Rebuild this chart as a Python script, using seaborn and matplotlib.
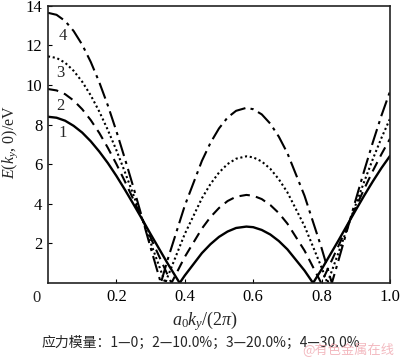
import numpy as np
import pandas as pd
import matplotlib
matplotlib.use("Agg")
import matplotlib.pyplot as plt
import seaborn as sns

# Readings from the reference (k = a0*ky/(2*pi), E in eV)
k1 = [0, 0.025, 0.05, 0.075, 0.10, 0.125, 0.15, 0.175, 0.20, 0.225, 0.25, 0.275, 0.30, 0.35, 0.385, 0.40, 0.45, 0.475, 0.50,
      0.525, 0.55, 0.58, 0.60, 0.625, 0.65, 0.675, 0.70, 0.75, 0.775, 0.80, 0.85, 0.90, 0.925, 0.95, 0.975, 1.00]
e1 = [8.40, 8.35, 8.20, 7.94, 7.60, 7.16, 6.64, 6.06, 5.41, 4.71, 3.98, 3.23, 2.47, 0.98, 0.0, 0.38, 1.51, 1.96, 2.33,
      2.60, 2.78, 2.85, 2.82, 2.68, 2.45, 2.12, 1.70, 0.63, 0.0, 0.69, 2.17, 3.69, 4.43, 5.14, 5.81, 6.42]

k2 = [0, 0.025, 0.05, 0.075, 0.10, 0.125, 0.15, 0.175, 0.20, 0.225, 0.25, 0.275, 0.30, 0.35, 0.361, 0.40, 0.45, 0.475, 0.50,
      0.525, 0.55, 0.58, 0.60, 0.625, 0.65, 0.675, 0.70, 0.75, 0.799, 0.85, 0.90, 0.925, 0.95, 0.975, 1.00]
e2 = [9.80, 9.73, 9.54, 9.22, 8.78, 8.23, 7.58, 6.83, 6.01, 5.13, 4.21, 3.25, 2.29, 0.40, 0.0, 1.32, 2.75, 3.33, 3.79,
      4.14, 4.36, 4.45, 4.41, 4.24, 3.94, 3.53, 3.00, 1.64, 0.0, 1.90, 3.83, 4.77, 5.67, 6.51, 7.29]

k3 = [0, 0.025, 0.05, 0.075, 0.10, 0.125, 0.15, 0.175, 0.20, 0.225, 0.25, 0.275, 0.30, 0.343, 0.35, 0.40, 0.45, 0.475, 0.50,
      0.525, 0.55, 0.58, 0.60, 0.625, 0.65, 0.675, 0.70, 0.75, 0.80, 0.817, 0.85, 0.90, 0.925, 0.95, 0.975, 1.00]
e3 = [11.45, 11.37, 11.13, 10.72, 10.17, 9.48, 8.66, 7.73, 6.71, 5.60, 4.44, 3.25, 2.04, 0.0, 0.32, 2.48, 4.28, 5.00, 5.58,
      6.01, 6.28, 6.40, 6.35, 6.14, 5.77, 5.24, 4.58, 2.88, 0.78, 0.0, 1.56, 3.97, 5.14, 6.27, 7.33, 8.30]

k4 = [0, 0.025, 0.05, 0.075, 0.10, 0.125, 0.15, 0.175, 0.20, 0.225, 0.25, 0.275, 0.30, 0.33, 0.35, 0.40, 0.45, 0.475, 0.50,
      0.525, 0.55, 0.58, 0.60, 0.625, 0.65, 0.675, 0.70, 0.75, 0.80, 0.83, 0.85, 0.90, 0.925, 0.95, 0.975, 1.00]
e4 = [13.65, 13.55, 13.24, 12.73, 12.04, 11.17, 10.14, 8.97, 7.67, 6.27, 4.82, 3.31, 1.79, 0.0, 1.19, 3.91, 6.17, 7.08, 7.81,
      8.36, 8.70, 8.85, 8.78, 8.52, 8.05, 7.39, 6.56, 4.41, 1.76, 0.0, 1.18, 4.22, 5.70, 7.12, 8.46, 9.68]

curve_labels = ["1", "2", "3", "4"]
label_pos_k = [0.042, 0.036, 0.036, 0.044]
label_pos_e = [7.6, 8.95, 10.6, 12.5]

x_ticks = [0.2, 0.4, 0.6, 0.8, 1.0]
x_ticklabels = ["0.2", "0.4", "0.6", "0.8", "1.0"]
y_ticks = [2, 4, 6, 8, 10, 12, 14]
y_ticklabels = ["2", "4", "6", "8", "10", "12", "14"]

caption = "应力模量：1—0；2—10.0%；3—20.0%；4—30.0%"
watermark = "@有色金属在线"

sns.set_style("ticks")
plt.rcParams["font.family"] = ["Liberation Serif", "DejaVu Serif"]
plt.rcParams["mathtext.fontset"] = "custom"
plt.rcParams["mathtext.rm"] = "Liberation Serif"
plt.rcParams["mathtext.it"] = "Liberation Serif:italic"

fig = plt.figure(figsize=(4.0, 3.58), dpi=100)
ax = fig.add_axes([0.12, 0.2095, 0.855, 0.774])

styles = [
    dict(linestyle="-", linewidth=1.7),
    dict(linestyle=(0, (5, 3)), linewidth=1.5),
    dict(linestyle=(0, (1, 1.3)), linewidth=1.5),
    dict(linestyle=(0, (8, 2.5, 1.5, 2.5)), linewidth=1.5),
]
for kk, ee, st in zip([k1, k2, k3, k4], [e1, e2, e3, e4], styles):
    df = pd.DataFrame({"k": kk, "E": ee})
    sns.lineplot(data=df, x="k", y="E", ax=ax, color="black", sort=False,
                 estimator=None, **st)

for lab, lk, le in zip(curve_labels, label_pos_k, label_pos_e):
    ax.text(lk, le, lab, fontsize=12, ha="center", va="center")

ax.set_xlim(0, 1.0)
ax.set_ylim(0, 14)
ax.set_xticks(x_ticks)
ax.set_xticklabels(x_ticklabels)
ax.set_yticks(y_ticks)
ax.set_yticklabels(y_ticklabels)
ax.tick_params(direction="in", length=3, width=0.8, labelsize=12, pad=4, colors="black")
for sp in ax.spines.values():
    sp.set_visible(True)
    sp.set_linewidth(1.2)
    sp.set_color("#222222")

ax.text(-0.022, -0.35, "0", fontsize=12, ha="right", va="top")

ax.set_xlabel(r"$a_0k_y/(2\pi)$", fontsize=13, labelpad=4)
ax.set_ylabel(r"$E$($k_y$, 0)/eV", fontsize=11.5)
ax.xaxis.set_label_coords(0.46, -0.095)
ax.yaxis.set_label_coords(-0.082, 0.51)

fig.text(0.105, 0.042, caption, fontsize=10, family=["Noto Sans CJK SC", "DejaVu Sans"], ha="left", va="center")
fig.text(0.755, 0.022, watermark, fontsize=9.5, family=["Noto Sans CJK SC", "DejaVu Sans"], color="#f0a8b0", alpha=0.8, ha="left", va="center")

fig.savefig("out.png", dpi=100)
